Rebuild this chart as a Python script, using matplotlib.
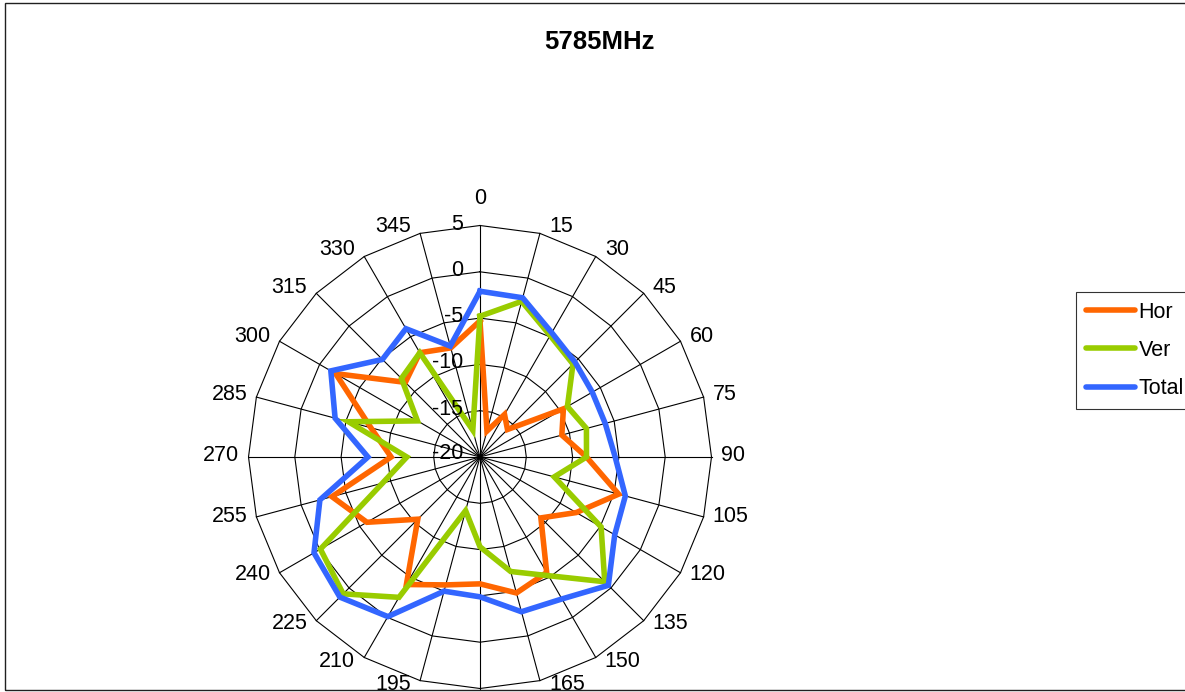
import matplotlib
matplotlib.use("Agg")
import matplotlib.pyplot as plt
from matplotlib.patches import Rectangle
import numpy as np

plt.rcParams['font.family'] = ['Liberation Sans', 'DejaVu Sans']

# ---- data ----
angles_deg = list(range(0, 360, 15))
angle_labels = [str(a) for a in angles_deg]
hor = [-5.3, -17.1, -14.7, -15.8, -9.6, -10.85, -8.5, -4.5, -8.0, -10.7, -5.6, -4.8,
       -6.3, -5.7, -4.1, -10.5, -5.9, -3.45, -10.4, -7.8, -2.0, -8.6, -7.0, -7.8]
ver = [-4.8, -2.6, -4.85, -5.8, -9.1, -8.1, -8.5, -11.7, -4.9, -0.95, -5.2, -7.2,
       -10.3, -14.0, -2.5, 0.9, -0.1, -9.1, -12.1, -5.3, -12.2, -8.0, -7.0, -17.0]
total = [-2.1, -2.2, -4.5, -5.5, -6.0, -6.0, -5.4, -3.75, -3.2, -0.4, -2.3, -2.7,
         -4.9, -5.0, -0.1, 1.4, 0.7, -2.1, -7.9, -3.8, -1.4, -5.1, -4.0, -7.6]
r_ticks = [-20, -15, -10, -5, 0, 5]
r_tick_labels = ['-20', '-15', '-10', '-5', '0', '5']
series_names = ['Hor', 'Ver', 'Total']
series_colors = ['#FF6600', '#99CC00', '#3366FF']
title = '5785MHz'

W, H = 1185, 692
fig = plt.figure(figsize=(W / 100, H / 100), dpi=100)

# chart frame
fig.patches.append(Rectangle((5 / W, 2 / H), 1.2, (687.5) / H, transform=fig.transFigure,
                             fill=False, edgecolor='#202020', linewidth=1.0))

cx, cy, R = 480, 457, 231.5
ax = fig.add_axes([(cx - R) / W, (H - cy - R) / H, 2 * R / W, 2 * R / H], projection='polar')
ax.set_theta_zero_location('N')
ax.set_theta_direction(-1)
ax.set_ylim(r_ticks[0], r_ticks[-1])
ax.grid(False)
ax.set_xticks([])
ax.set_yticks([])
ax.spines['polar'].set_visible(False)
ax.patch.set_alpha(0)

theta = np.deg2rad(angles_deg)
tc = np.append(theta, theta[0])

# polygon gridlines
for v in r_ticks[1:]:
    ax.plot(tc, [v] * len(tc), color='black', lw=0.8, clip_on=False, zorder=1)
for t in theta:
    ax.plot([t, t], [r_ticks[0], r_ticks[-1]], color='black', lw=0.8, clip_on=False, zorder=1)

# series
for name, vals, col in zip(series_names, [hor, ver, total], series_colors):
    ax.plot(tc, list(vals) + [vals[0]], color=col, lw=4, label=name, clip_on=False,
            solid_joinstyle='miter', zorder=3)

# angle labels (placed next to outer ring vertices)
for a, lab in zip(angles_deg, angle_labels):
    t = np.deg2rad(a)
    s, c = np.sin(t), np.cos(t)
    if abs(s) < 1e-6:
        off = (0, 27 * np.sign(c))
        ha = 'center'
    else:
        off = (9 * np.sign(s), 1.5 + 6 * c)
        ha = 'left' if s > 0 else 'right'
    ax.annotate(lab, xy=(t, r_ticks[-1]), xytext=off, textcoords='offset pixels',
                ha=ha, va='center', fontsize=15.5, annotation_clip=False)

# radial labels
for v, lab in zip(r_ticks, r_tick_labels):
    dy = 3.7 if v == r_ticks[0] else 1.5
    ax.annotate(lab, xy=(0, v), xytext=(-17, dy), textcoords='offset pixels',
                ha='right', va='center', fontsize=15.5, zorder=5)

fig.text(599 / W, 1 - 42 / H, title, ha='center', va='center', fontsize=18.5, fontweight='bold')

leg = fig.legend(loc='upper left', bbox_to_anchor=(1076 / W, 1 - 292 / H), fontsize=15.5,
                 frameon=True, fancybox=False, edgecolor='black', handlelength=2.3,
                 handletextpad=0.15, labelspacing=0.8, borderpad=0.45, borderaxespad=0)
leg.get_frame().set_linewidth(0.8)
for l in leg.get_lines():
    l.set_linewidth(4)
    l.set_solid_capstyle('round')

fig.savefig('out.png', dpi=100)
